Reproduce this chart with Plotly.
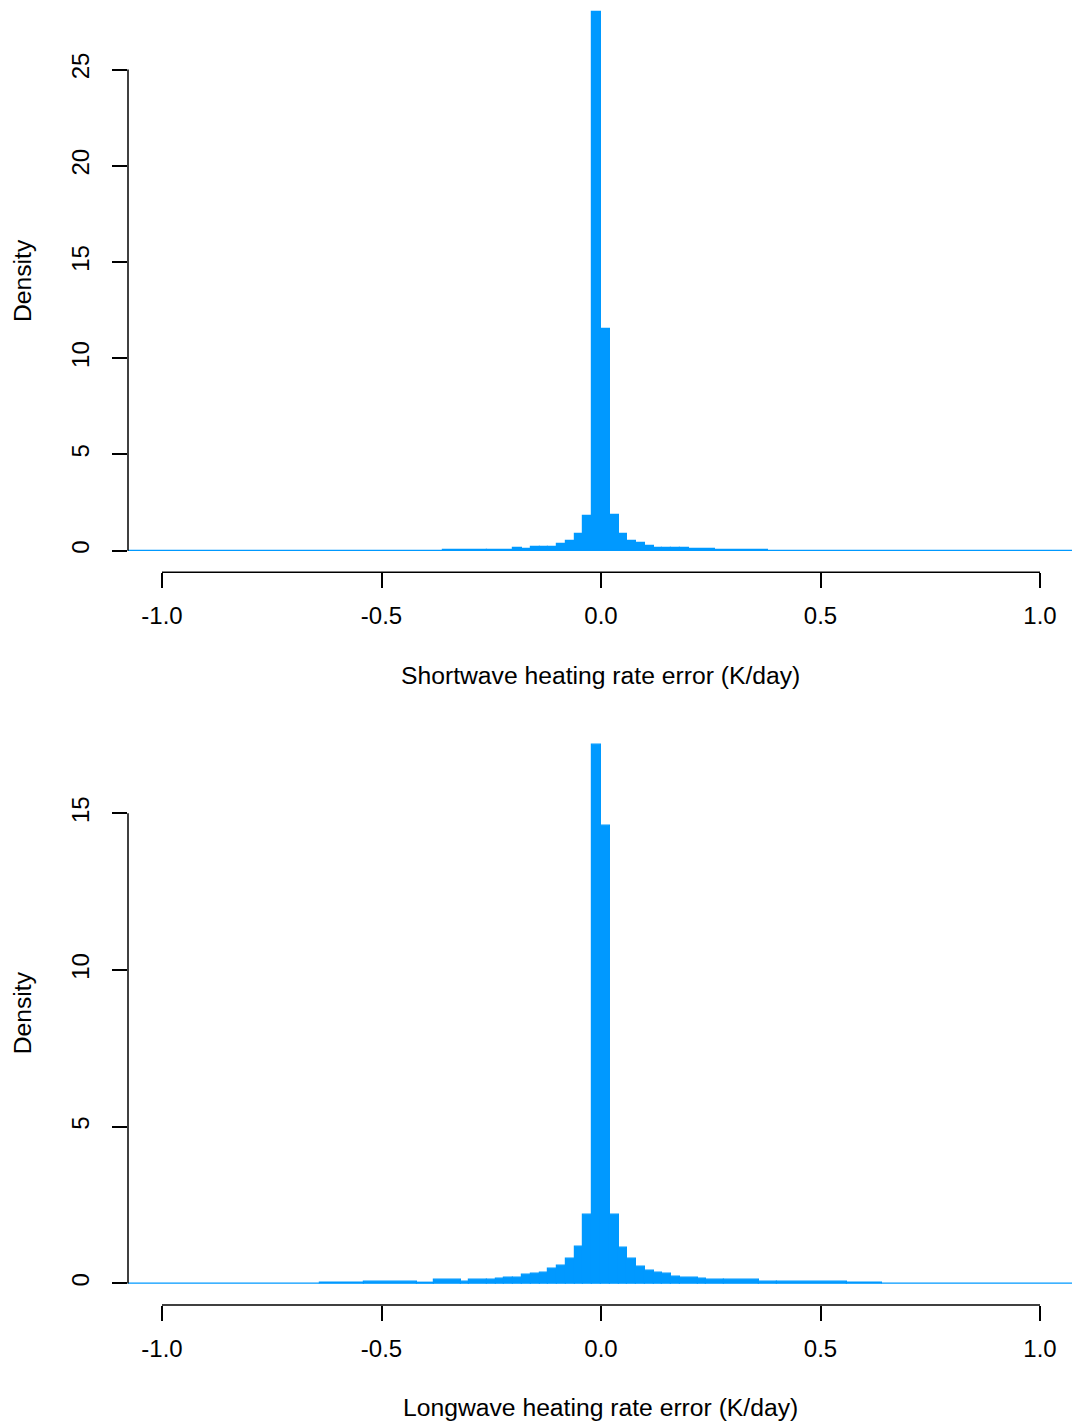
import plotly.graph_objects as go

# ---------------- data (histogram breaks and densities) ----------------
sw_breaks = [-1.10, -0.36, -0.26, -0.20, -0.18, -0.16, -0.14, -0.12, -0.10, -0.08,
             -0.06, -0.04, -0.02, 0.00, 0.02, 0.04, 0.06, 0.08, 0.10, 0.12,
             0.14, 0.16, 0.18, 0.20, 0.26, 0.38, 1.10]
sw_density = [0.0, 0.06, 0.05, 0.13, 0.08, 0.17, 0.17, 0.21, 0.33, 0.52,
              0.85, 1.78, 28.0, 11.5, 1.84, 0.88, 0.52, 0.38, 0.26, 0.16,
              0.16, 0.12, 0.12, 0.07, 0.06, 0.0]

lw_breaks = [-1.10, -0.64, -0.54, -0.42, -0.38, -0.32, -0.30, -0.26, -0.24, -0.22,
             -0.20, -0.18, -0.16, -0.14, -0.12, -0.10, -0.08, -0.06, -0.04, -0.02,
             0.00, 0.02, 0.04, 0.06, 0.08, 0.10, 0.12, 0.14, 0.16, 0.18,
             0.22, 0.24, 0.28, 0.36, 0.40, 0.56, 0.64, 1.10]
lw_density = [0.0, 0.03, 0.06, 0.03, 0.10, 0.06, 0.13, 0.10, 0.16, 0.19,
              0.19, 0.26, 0.29, 0.35, 0.45, 0.57, 0.77, 1.18, 2.2, 17.2,
              14.6, 2.2, 1.15, 0.77, 0.54, 0.41, 0.35, 0.29, 0.22, 0.19,
              0.16, 0.13, 0.10, 0.05, 0.06, 0.03, 0.0]

x_tickvals = [-1.0, -0.5, 0.0, 0.5, 1.0]
x_ticktext = ["-1.0", "-0.5", "0.0", "0.5", "1.0"]
sw_yticks = [0, 5, 10, 15, 20, 25]
lw_yticks = [0, 5, 10, 15]
sw_xlabel = "Shortwave heating rate error (K/day)"
lw_xlabel = "Longwave heating rate error (K/day)"
ylabel = "Density"

# ---------------- layout geometry ----------------
W, H = 1072, 1423
ML, MB = 128, 118.4
PH = H - MB  # plot-area height in px


def py(y):
    """pixel y -> paper y"""
    return (PH - y) / PH


def pxx(x):
    return (x - ML) / (W - ML)


BAR = "#0099ff"
FONT = "Liberation Sans, Arial, Helvetica, sans-serif"
FS = 24
FS_T = 24.7

fig = go.Figure()


def add_hist(breaks, dens, xa, ya):
    centers = [(a + b) / 2 for a, b in zip(breaks[:-1], breaks[1:])]
    widths = [b - a for a, b in zip(breaks[:-1], breaks[1:])]
    fig.add_trace(go.Bar(x=centers, y=dens, width=widths, xaxis=xa, yaxis=ya,
                         marker=dict(color=BAR, line=dict(color=BAR, width=1.2)),
                         showlegend=False, hoverinfo="skip"))


add_hist(sw_breaks, sw_density, "x", "y")
add_hist(lw_breaks, lw_density, "x2", "y2")

xrange = [(128 - 601) / 439, (1072 - 601) / 439]

common_x = dict(range=xrange, tickmode="array", tickvals=x_tickvals, ticktext=x_ticktext,
                ticks="outside", ticklen=15, tickwidth=1.5, tickcolor="black",
                showline=False, showgrid=False, zeroline=False, ticklabelstandoff=7,
                tickfont=dict(family=FONT, size=FS, color="black"))
common_y = dict(ticks="outside", ticklen=15, tickwidth=1.5, tickcolor="black",
                showline=False, showgrid=False, zeroline=False, tickangle=-90,
                ticklabelstandoff=13,
                tickfont=dict(family=FONT, size=FS, color="black"))

# top panel: y=0 at px 550.5, 19.24 px/unit, region 0..572
top_scale = 19.24
top_range = [-(572 - 550.5) / top_scale, 550.5 / top_scale]
# bottom panel: y=0 at px 1283, 31.33 px/unit, region 722.6..1304.6
bot_scale = 31.33
bot_range = [-(PH - 1283) / bot_scale, (1283 - 722.6) / bot_scale]

fig.update_layout(
    width=W, height=H,
    margin=dict(l=ML, r=0, t=0, b=MB),
    plot_bgcolor="white", paper_bgcolor="white",
    xaxis=dict(domain=[0, 1], anchor="y", **common_x),
    yaxis=dict(domain=[py(572), 1], anchor="x", range=top_range,
               tickvals=sw_yticks, ticktext=[str(v) for v in sw_yticks], **common_y),
    xaxis2=dict(domain=[0, 1], anchor="y2", **common_x),
    yaxis2=dict(domain=[0, py(722.6)], anchor="x2", range=bot_range,
                tickvals=lw_yticks, ticktext=[str(v) for v in lw_yticks], **common_y),
    bargap=0,
)

# R-style axis lines spanning first to last tick
shapes = [
    dict(type="line", xref="paper", x0=0, x1=0, yref="y", y0=sw_yticks[0], y1=sw_yticks[-1],
         line=dict(color="black", width=1.5)),
    dict(type="line", xref="x", x0=x_tickvals[0], x1=x_tickvals[-1], yref="y domain", y0=0, y1=0,
         line=dict(color="black", width=1.5)),
    dict(type="line", xref="paper", x0=0, x1=0, yref="y2", y0=lw_yticks[0], y1=lw_yticks[-1],
         line=dict(color="black", width=1.5)),
    dict(type="line", xref="x2", x0=x_tickvals[0], x1=x_tickvals[-1], yref="y2 domain", y0=0, y1=0,
         line=dict(color="black", width=1.5)),
]
fig.update_layout(shapes=shapes)

ann_font = dict(family=FONT, size=FS_T, color="black")
annotations = [
    dict(text=sw_xlabel, xref="paper", yref="paper", x=pxx(600), y=py(675),
         xanchor="center", yanchor="middle", showarrow=False, font=ann_font),
    dict(text=lw_xlabel, xref="paper", yref="paper", x=pxx(600), y=py(1407),
         xanchor="center", yanchor="middle", showarrow=False, font=ann_font),
    dict(text=ylabel, xref="paper", yref="paper", x=pxx(22), y=py(281),
         xanchor="center", yanchor="middle", showarrow=False, textangle=-90, font=ann_font),
    dict(text=ylabel, xref="paper", yref="paper", x=pxx(22), y=py(1013),
         xanchor="center", yanchor="middle", showarrow=False, textangle=-90, font=ann_font),
]
fig.update_layout(annotations=annotations)

fig.write_html("out.html")
